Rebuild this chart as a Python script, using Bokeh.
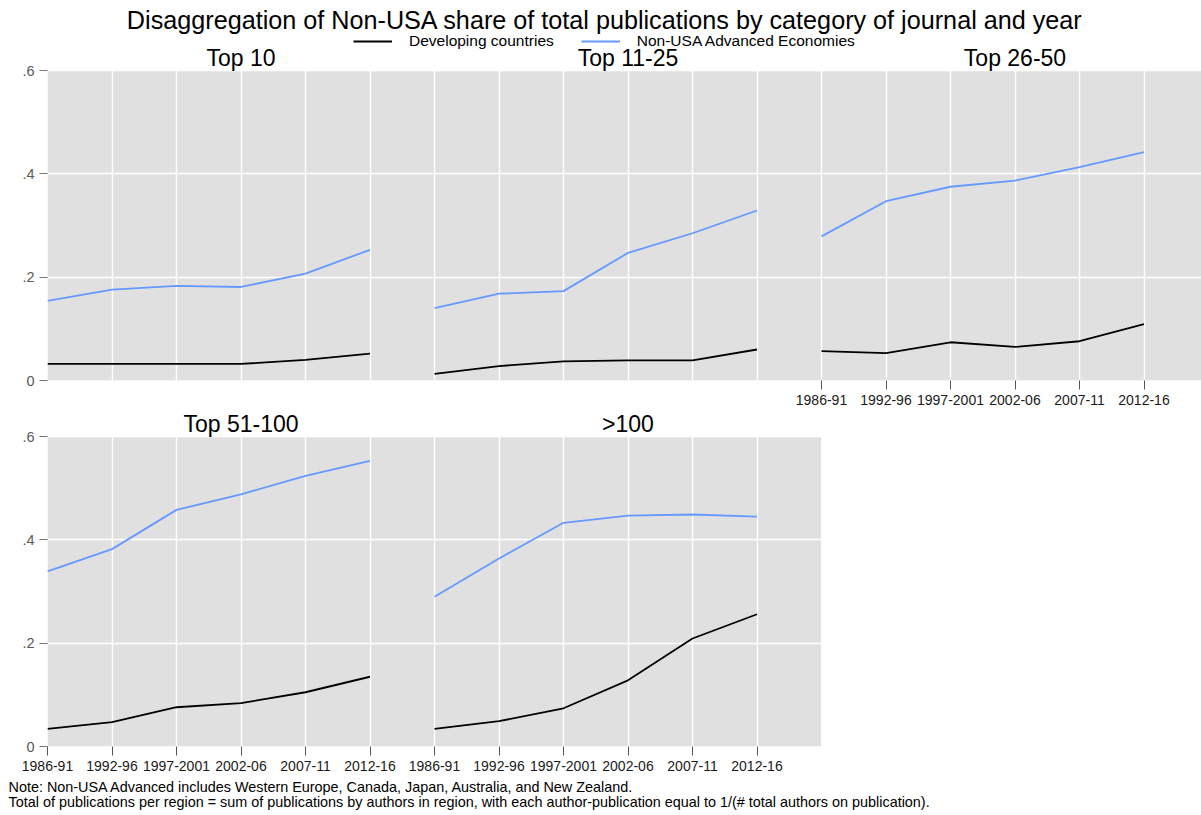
from bokeh.plotting import figure
from bokeh.layouts import column, row
from bokeh.models import FixedTicker, Range1d, Legend, LegendItem
from bokeh.embed import file_html
from bokeh.resources import INLINE
from bokeh.core.properties import value

# ---------------- data ----------------
title_text = "Disaggregation of Non-USA share of total  publications by category of journal and year"
periods = ["1986-91", "1992-96", "1997-2001", "2002-06", "2007-11", "2012-16"]
panel_names = ["Top 10", "Top 11-25", "Top 26-50", "Top 51-100", ">100"]
series_names = ["Developing countries", "Non-USA Advanced Economies"]
series_colors = ["#000000", "#6699ff"]

dev_top10 = [0.032, 0.032, 0.032, 0.032, 0.040, 0.052]
adv_top10 = [0.154, 0.176, 0.183, 0.181, 0.207, 0.253]
dev_top11_25 = [0.013, 0.028, 0.037, 0.039, 0.039, 0.060]
adv_top11_25 = [0.140, 0.168, 0.173, 0.247, 0.285, 0.329]
dev_top26_50 = [0.057, 0.053, 0.074, 0.065, 0.076, 0.109]
adv_top26_50 = [0.279, 0.347, 0.375, 0.387, 0.413, 0.442]
dev_top51_100 = [0.034, 0.047, 0.076, 0.084, 0.105, 0.135]
adv_top51_100 = [0.339, 0.382, 0.458, 0.488, 0.524, 0.553]
dev_gt100 = [0.034, 0.049, 0.074, 0.128, 0.209, 0.256]
adv_gt100 = [0.290, 0.364, 0.433, 0.447, 0.449, 0.445]

y_ticks = [0, 0.2, 0.4, 0.6]
y_tick_labels = ["0", ".2", ".4", ".6"]

note_lines = [
    "Note: Non-USA Advanced includes Western Europe, Canada, Japan, Australia, and New Zealand.",
    "Total of publications per region = sum of publications by authors in region, with each author-publication equal to 1/(# total authors on publication).",
]

# ---------------- layout constants (page pixels) ----------------
FONT = "Liberation Sans"
PAGE_W = 1201
LEFT = 47          # left border holding the y axis
UNIT = 64.5        # pixels per period step
PLOT_H = 310       # height of the grey plotting area
Y_MAX = 0.6
N = len(periods)


def make_row(panels, names, width, row_top, head, bottom, label_panels, title_y):
    """One figure per row of panels.  The frame also covers a white 'head' strip
    above the grey area, where the panel titles (and the main title) are written."""
    frame_w = width - LEFT
    x_end = frame_w / UNIT
    y_end = Y_MAX * (head + PLOT_H) / PLOT_H
    p = figure(width=width, height=head + PLOT_H + bottom,
               x_range=Range1d(0, x_end), y_range=Range1d(0, y_end),
               output_backend="svg", toolbar_location=None,
               min_border_left=LEFT, min_border_right=0,
               min_border_top=0, min_border_bottom=bottom)
    # page-pixel coordinate system for texts placed in the head strip
    p.extra_x_ranges = {"px": Range1d(LEFT, LEFT + frame_w)}
    p.extra_y_ranges = {"px": Range1d(row_top + head + PLOT_H, row_top)}
    p.outline_line_color = None
    p.background_fill_color = "white"
    p.border_fill_color = "white"

    # grey plotting area below the white head strip
    p.quad(left=[0], right=[x_end], bottom=[0], top=[Y_MAX], fill_color="#e0e0e0",
           line_color=None, level="image")

    tick_pos = [k * N + i for k in label_panels for i in range(N)]
    xa = p.xaxis[0]
    xa.ticker = FixedTicker(ticks=tick_pos)
    xa.major_label_overrides = {t: periods[t % N] for t in tick_pos}
    xa.axis_line_color = None
    xa.minor_tick_line_color = None
    xa.major_tick_in = 0
    xa.major_tick_out = 9
    xa.major_label_standoff = 5
    xa.major_label_text_font = FONT
    xa.major_label_text_font_size = "14px"
    xa.major_label_text_color = "#1a1a1a"
    xa.major_tick_line_color = "#555555"

    ya = p.yaxis[0]
    ya.ticker = FixedTicker(ticks=y_ticks)
    ya.major_label_overrides = {t: l for t, l in zip(y_ticks, y_tick_labels)}
    ya.axis_line_color = None
    ya.minor_tick_line_color = None
    ya.major_tick_in = 0
    ya.major_tick_out = 8
    ya.major_label_standoff = 5
    ya.major_label_text_font = FONT
    ya.major_label_text_font_size = "14.5px"
    ya.major_label_text_color = "#5a5a5a"
    ya.major_tick_line_color = "#777777"

    p.xgrid.ticker = FixedTicker(ticks=list(range(0, int(x_end) + 1)))
    p.grid.grid_line_color = "white"
    p.grid.grid_line_width = 1.5

    # white head strip hides the grid above the grey area
    p.quad(left=[0], right=[x_end], bottom=[Y_MAX], top=[y_end], fill_color="white", line_color=None)

    renderers = []
    for k, (dev, adv) in enumerate(panels):
        xs = [k * N + i for i in range(N)]
        r_dev = p.line(x=xs, y=dev, line_color=series_colors[0], line_width=1.8)
        r_adv = p.line(x=xs, y=adv, line_color=series_colors[1], line_width=1.8)
        renderers.append((r_dev, r_adv))

    centers = [k * N + N / 2 for k in range(len(panels))]
    p.text(x=centers, y=[title_y] * len(centers), text=names, y_range_name="px",
           text_align="center", text_baseline="middle", text_font=value(FONT),
           text_font_size="23px", text_color="black")
    return p, renderers


# row 1: page y 0..410 (grey area 70..380)
row1, rends1 = make_row([(dev_top10, adv_top10), (dev_top11_25, adv_top11_25), (dev_top26_50, adv_top26_50)],
                        panel_names[:3], PAGE_W, row_top=0, head=70, bottom=30, label_panels=[2], title_y=57)
row1.text(x=[608], y=[19], text=[title_text], x_range_name="px", y_range_name="px",
          text_align="center", text_baseline="middle", text_font=value(FONT),
          text_font_size="25.2px", text_color="black")
legend = Legend(items=[LegendItem(label=series_names[0], renderers=[rends1[0][0]]),
                       LegendItem(label=series_names[1], renderers=[rends1[0][1]])],
                orientation="horizontal", location=(353 - LEFT, 380 - 41 - 10),
                glyph_width=39, glyph_height=20, label_height=20, label_standoff=17, spacing=27,
                padding=0, margin=0, border_line_color=None, background_fill_alpha=0,
                label_text_font=FONT, label_text_font_size="15.5px", label_text_color="black")
row1.add_layout(legend)

# row 2: page y 410..778 (grey area 436..746)
row2, _ = make_row([(dev_top51_100, adv_top51_100), (dev_gt100, adv_gt100)],
                   panel_names[3:], LEFT + int(round(2 * N * UNIT)), row_top=410, head=26, bottom=32,
                   label_panels=[0, 1], title_y=423)

# notes: page y 778..815
FOOTER_H = 37
footer = figure(width=PAGE_W, height=FOOTER_H, x_range=Range1d(0, PAGE_W), y_range=Range1d(FOOTER_H, 0),
                output_backend="svg", toolbar_location=None, min_border=0,
                x_axis_location=None, y_axis_location=None)
footer.outline_line_color = None
footer.grid.visible = False
footer.text(x=[8, 8], y=[8, 23], text=note_lines, text_align="left", text_baseline="middle",
            text_font=value(FONT), text_font_size="14.4px", text_color="black")

layout = column(row(row1), row(row2), row(footer))
open("out.html", "w").write(file_html(layout, INLINE))
